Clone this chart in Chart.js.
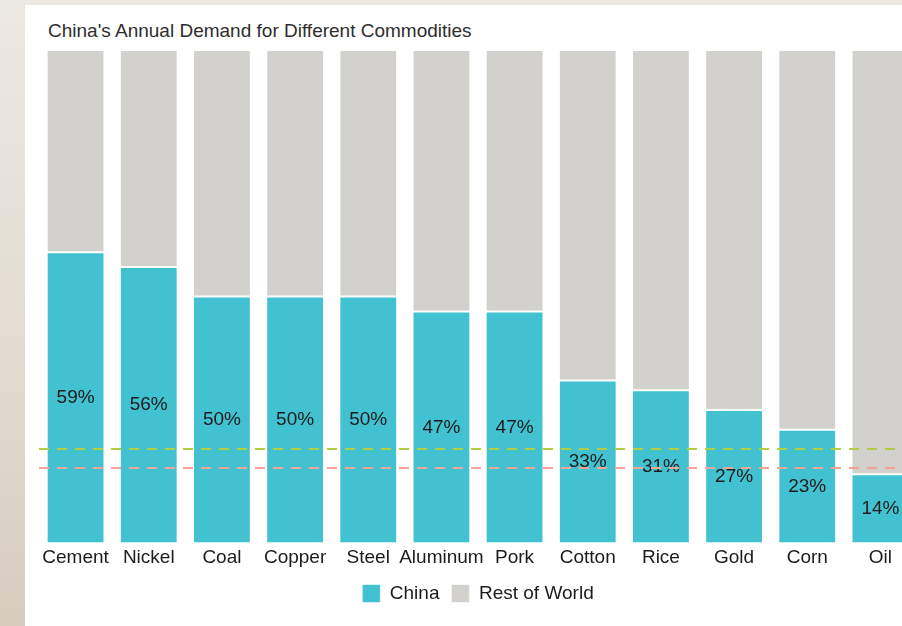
<!DOCTYPE html>
<html>
<head>
<meta charset="utf-8">
<script src="https://cdn.jsdelivr.net/npm/chart.js@4/dist/chart.umd.min.js"></script>
<style>
	html, body { margin: 0; padding: 0; }
	body {
		width: 902px; height: 626px; overflow: hidden; position: relative;
		background: linear-gradient(to bottom, #ece8e2 0%, #e3ddd3 50%, #d6cdbf 100%);
		font-family: "Liberation Sans", Arial, sans-serif;
	}
	#panel {
		position: absolute; left: 25px; top: 5px; width: 900px; height: 621px;
		background: #ffffff;
	}
	#title {
		position: absolute; left: 23px; top: 16px;
		font-size: 19px; line-height: 19px; color: #2d2d2d; white-space: nowrap;
	}
	#chart { position: absolute; left: 0; top: 0; }
</style>
</head>
<body>
<div id="panel">
	<div id="title">China's Annual Demand for Different Commodities</div>
	<canvas id="chart" width="900" height="621"></canvas>
</div>
<script>
var commodities = ['Cement', 'Nickel', 'Coal', 'Copper', 'Steel', 'Aluminum', 'Pork', 'Cotton', 'Rice', 'Gold', 'Corn', 'Oil'];
var chinaShare = [59, 56, 50, 50, 50, 47, 47, 33, 31, 27, 23, 14];
var restOfWorldShare = [41, 44, 50, 50, 50, 53, 53, 67, 69, 73, 77, 86];
// reference levels drawn as dashed lines across the plot
var greenLevel = 19.0;
var salmonLevel = 15.2;

var fontFamily = '"Liberation Sans", Arial, sans-serif';

// percentages written in the middle of each China segment
var valueLabels = {
	id: 'valueLabels',
	afterDatasetsDraw: function(chart)
	{
		var ctx = chart.ctx;
		var meta = chart.getDatasetMeta(0);
		ctx.save();
		ctx.font = '19px ' + fontFamily;
		ctx.fillStyle = '#1c1c1c';
		ctx.textAlign = 'center';
		ctx.textBaseline = 'middle';
		for(var i = 0; i < meta.data.length; i++)
		{
			var bar = meta.data[i];
			ctx.fillText(chinaShare[i] + '%', bar.x, (bar.y + bar.base) / 2);
		}
		ctx.restore();
	}
};

var dashedLevels = {
	id: 'dashedLevels',
	afterDraw: function(chart)
	{
		var ctx = chart.ctx;
		var area = chart.chartArea;
		var y = chart.scales.y;
		var levels = [[greenLevel, '#b3cd42'], [salmonLevel, '#f4a497']];
		ctx.save();
		ctx.lineWidth = 2;
		ctx.setLineDash([10, 8]);
		for(var i = 0; i < levels.length; i++)
		{
			var py = Math.round(y.getPixelForValue(levels[i][0]));
			ctx.strokeStyle = levels[i][1];
			ctx.beginPath();
			ctx.moveTo(area.left, py);
			ctx.lineTo(area.right + 20, py);
			ctx.stroke();
		}
		ctx.restore();
	}
};

var demandChart = new Chart(document.getElementById('chart'), {
	type: 'bar',
	data: {
		labels: commodities,
		datasets: [{
			label: 'China',
			data: chinaShare,
			backgroundColor: '#42c1d0',
			borderColor: 'rgba(255,255,255,0.55)',
			borderWidth: 1,
			borderSkipped: false
		}, {
			label: 'Rest of World',
			data: restOfWorldShare,
			backgroundColor: '#d2d1cd',
			borderColor: 'rgba(255,255,255,0.55)',
			borderWidth: 1,
			borderSkipped: false
		}]
	},
	options: {
		responsive: false,
		maintainAspectRatio: false,
		animation: false,
		layout: {
			padding: { left: 14, right: 8, top: 45, bottom: 13 }
		},
		categoryPercentage: 0.79,
		barPercentage: 1.0,
		scales: {
			x: {
				stacked: true,
				grid: { display: false, drawTicks: false },
				border: { display: false },
				ticks: {
					padding: 3,
					color: '#1c1c1c',
					font: { family: fontFamily, size: 19 },
					maxRotation: 0,
					autoSkip: false
				}
			},
			y: {
				stacked: true,
				display: false,
				min: 0,
				max: 100
			}
		},
		plugins: {
			legend: {
				display: true,
				position: 'bottom',
				labels: {
					boxWidth: 18,
					boxHeight: 18,
					padding: 12,
					color: '#1c1c1c',
					font: { family: fontFamily, size: 19 }
				}
			},
			tooltip: { enabled: false }
		}
	},
	plugins: [valueLabels, dashedLevels]
});
</script>
</body>
</html>
